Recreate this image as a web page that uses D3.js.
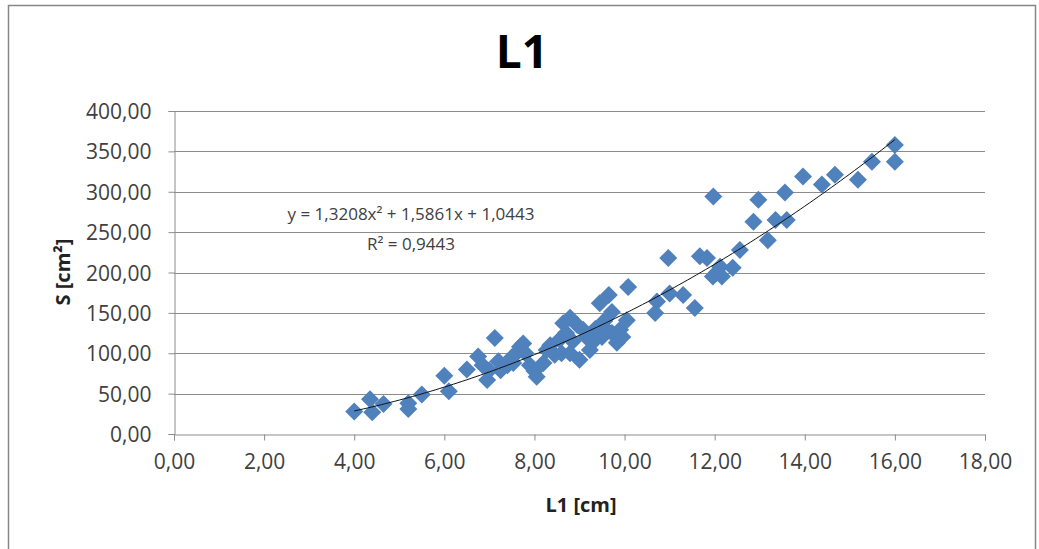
<!DOCTYPE html>
<html>
<head>
<meta charset="utf-8">
<script src="https://cdn.jsdelivr.net/npm/d3@7"></script>
<style>
  body { margin: 0; background: #fff; }
  svg { display: block; }
  text { font-family: "Open Sans", "Liberation Sans", sans-serif; fill: #404040; }
</style>
</head>
<body>
<svg width="1039" height="549"></svg>
<script>
// L1 [cm] values
var lengths = [4.0, 4.35, 4.4, 4.65, 5.2, 5.2, 5.5, 6.0, 6.1, 6.5,
  6.75, 6.85, 6.95, 7.0, 7.12, 7.2, 7.25, 7.4, 7.5, 7.53,
  7.6, 7.68, 7.75, 7.8, 7.9, 8.0, 8.05, 8.2, 8.27, 8.35,
  8.45, 8.56, 8.6, 8.64, 8.7, 8.79, 8.79, 8.85, 8.95, 9.0,
  9.08, 9.15, 9.23, 9.3, 9.35, 9.45, 9.5, 9.55, 9.6, 9.65,
  9.72, 9.72, 9.83, 9.9, 9.95, 10.05, 10.08, 10.68, 10.72, 10.97,
  11.0, 11.3, 11.56, 11.67, 11.83, 11.96, 11.97, 12.05, 12.12, 12.16,
  12.4, 12.56, 12.86, 12.97, 13.18, 13.35, 13.56, 13.6, 13.96, 14.38,
  14.67, 15.18, 15.49, 16.0, 16.0];
// S [cm2] values
var areas = [28, 43, 27, 37, 38, 31, 49, 72, 53, 80,
  96, 85, 67, 79, 119, 90, 79, 85, 95, 88,
  100, 108, 112, 100, 85, 78, 71, 88, 104, 110,
  98, 117, 100, 137, 125, 144, 100, 115, 135, 92,
  129, 120, 104, 114, 130, 162, 120, 140, 129, 172,
  151, 125, 113, 129, 120, 141, 182, 150, 164, 218,
  174, 172, 156, 220, 218, 195, 294, 200, 207, 195,
  206, 228, 263, 290, 240, 265, 299, 265, 319, 309,
  321, 315, 337, 358, 337];

// polynomial trendline y = a x^2 + b x + c
var trendCoef = [1.3208, 1.5861, 1.0443];
var trendRange = [4, 16];
var equationLines = ["y = 1,3208x² + 1,5861x + 1,0443", "R² = 0,9443"];

var xTicks = [0, 2, 4, 6, 8, 10, 12, 14, 16, 18];
var yTicks = [0, 50, 100, 150, 200, 250, 300, 350, 400];

var svg = d3.select("svg");
var fmt = function(v) { return d3.format(".2f")(v).replace(".", ","); };

// chart border
svg.append("rect")
    .attr("x", 8.5).attr("y", 5.5)
    .attr("width", 1027).attr("height", 560)
    .attr("fill", "none")
    .attr("stroke", "#868686")
    .attr("stroke-width", 1.5);

var x = d3.scaleLinear().domain([0, 18]).range([174, 985]);
var y = d3.scaleLinear().domain([0, 400]).range([434, 111]);

// gridlines
svg.append("g")
  .selectAll("line")
  .data(yTicks.filter(function(d) { return d > 0; }))
  .enter().append("line")
    .attr("x1", x(0)).attr("x2", x(18))
    .attr("y1", function(d) { return Math.round(y(d)) + 0.5; })
    .attr("y2", function(d) { return Math.round(y(d)) + 0.5; })
    .attr("stroke", "#8c8c8c")
    .attr("stroke-width", 1);

// y axis
var yAxis = svg.append("g")
    .attr("transform", "translate(" + (x(0) + 0.5) + ",0)")
    .call(d3.axisLeft(y).tickValues(yTicks).tickFormat(fmt).tickSize(6).tickPadding(17));
yAxis.select(".domain").attr("stroke", "#8c8c8c");
yAxis.selectAll(".tick line").attr("stroke", "#8c8c8c");
yAxis.selectAll("text")
    .attr("font-size", 21)
    .attr("font-family", "Open Sans, Liberation Sans, sans-serif")
    .attr("fill", "#404040")
    .attr("dy", "0.36em");

// x axis
var xAxis = svg.append("g")
    .attr("transform", "translate(0," + (y(0) + 0.5) + ")")
    .call(d3.axisBottom(x).tickValues(xTicks).tickFormat(fmt).tickSize(6).tickPadding(14));
xAxis.select(".domain").attr("stroke", "#8c8c8c");
xAxis.selectAll(".tick line").attr("stroke", "#8c8c8c");
xAxis.selectAll("text")
    .attr("font-size", 21)
    .attr("font-family", "Open Sans, Liberation Sans, sans-serif")
    .attr("fill", "#404040");

// points
var points = lengths.map(function(d, i) { return { x: d, y: areas[i] }; });
svg.append("g")
  .selectAll("path")
  .data(points)
  .enter().append("path")
    .attr("transform", function(d) { return "translate(" + x(d.x) + "," + y(d.y) + ")"; })
    .attr("d", "M0,-9L9,0L0,9L-9,0Z")
    .attr("fill", "#4f81bd");

// trendline
var trendPts = d3.range(trendRange[0], trendRange[1] + 0.001, 0.1).map(function(v) {
  return [v, trendCoef[0] * v * v + trendCoef[1] * v + trendCoef[2]];
});
svg.append("path")
    .datum(trendPts)
    .attr("fill", "none")
    .attr("stroke", "#111")
    .attr("stroke-width", 1)
    .attr("d", d3.line()
      .x(function(d) { return x(d[0]); })
      .y(function(d) { return y(d[1]); }));

// equation
svg.append("g")
  .selectAll("text")
  .data(equationLines)
  .enter().append("text")
    .attr("x", 411)
    .attr("y", function(d, i) { return 220 + i * 30; })
    .attr("text-anchor", "middle")
    .attr("font-size", 17)
    .attr("fill", "#222")
    .text(function(d) { return d; });

// title
svg.append("text")
    .attr("x", 522).attr("y", 68)
    .attr("text-anchor", "middle")
    .attr("font-size", 46)
    .attr("font-weight", "bold")
    .style("fill", "#000")
    .text("L1");

// axis titles
svg.append("text")
    .attr("x", 581).attr("y", 512)
    .attr("text-anchor", "middle")
    .attr("font-size", 20)
    .attr("font-weight", "bold")
    .style("fill", "#222")
    .text("L1 [cm]");

svg.append("text")
    .attr("transform", "translate(70,272) rotate(-90)")
    .attr("text-anchor", "middle")
    .attr("font-size", 20)
    .attr("font-weight", "bold")
    .style("fill", "#222")
    .text("S [cm²]");
</script>
</body>
</html>
